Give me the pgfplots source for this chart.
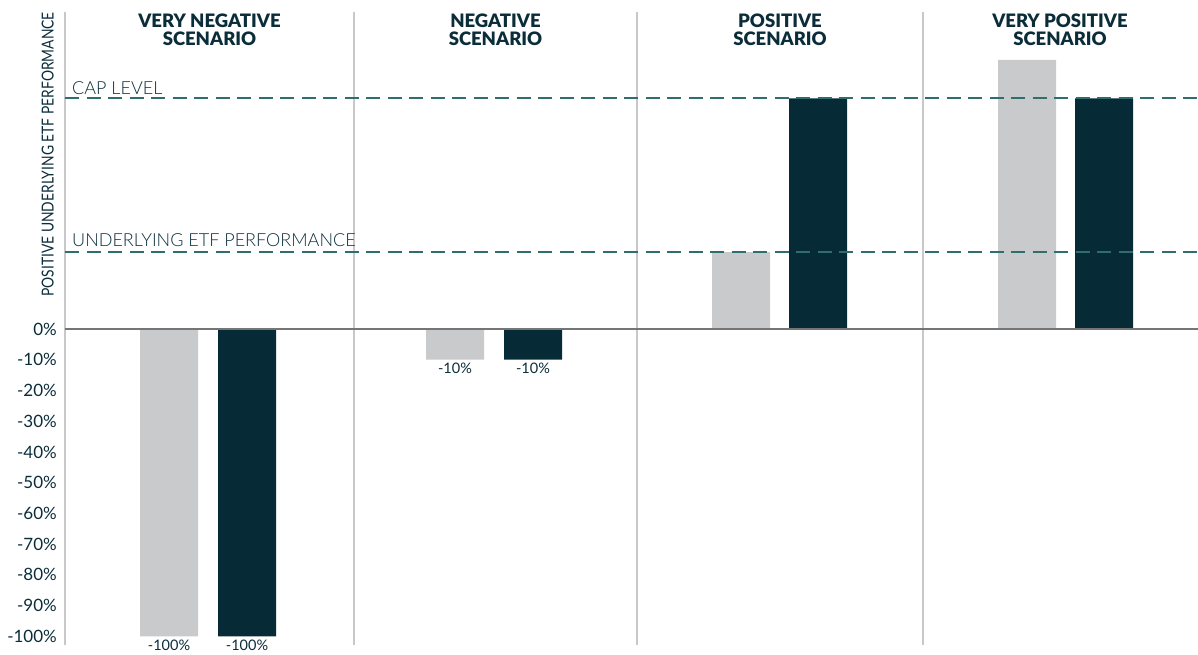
\documentclass[border=0pt]{standalone}
\usepackage{pgfplots}
\pgfplotsset{compat=1.18}
\usepackage{fontspec}
\setmainfont{Lato}
\newfontfamily\lightfont{Lato Light}
\newfontfamily\blackfont{Lato Black}
\definecolor{darkbar}{HTML}{072B36}
\definecolor{lightbar}{HTML}{C9CACC}
\definecolor{txt}{HTML}{0B2D3A}
\definecolor{dashc}{HTML}{2E6E6E}
\definecolor{sepc}{HTML}{C8C8C8}
\definecolor{zeroc}{HTML}{757575}
\tikzset{ttl/.style={anchor=base, inner sep=0pt, text=txt, font=\blackfont\fontsize{18.5}{18.5}\selectfont}}

\begin{document}
\begin{tikzpicture}
\begin{axis}[
  width=1133pt, height=633pt, scale only axis,
  xmin=65, xmax=1198, ymin=-102.8, ymax=103.1,
  axis line style={draw=none},
  xtick=\empty,
  ytick={-100,-90,-80,-70,-60,-50,-40,-30,-20,-10,0},
  yticklabels={-100\%,-90\%,-80\%,-70\%,-60\%,-50\%,-40\%,-30\%,-20\%,-10\%,0\%},
  major tick length=0pt,
  yticklabel style={font=\fontsize{17}{17}\selectfont, text=txt, anchor=east, inner sep=0pt, xshift=-8pt},
  clip=false,
  every node near coord/.style={font=\fontsize{14.5}{14.5}\selectfont, text=txt, anchor=north, inner sep=0pt, yshift=-3.5pt},
]
% separators and left axis
\draw[sepc, line width=1.5pt] (axis cs:65,-102.8) -- (axis cs:65,103.1);
\draw[sepc, line width=1.5pt] (axis cs:354,-102.8) -- (axis cs:354,103.1);
\draw[sepc, line width=1.5pt] (axis cs:637,-102.8) -- (axis cs:637,103.1);
\draw[sepc, line width=1.5pt] (axis cs:923,-102.8) -- (axis cs:923,103.1);

% bars
\addplot[ybar, bar width=58, bar shift=0pt, fill=lightbar, draw=none,
  nodes near coords, point meta=explicit symbolic]
  coordinates {(169,-100) [-100\%] (455,-10) [-10\%] (741,25) [] (1027,87.5) []};
\addplot[ybar, bar width=58, bar shift=0pt, fill=darkbar, draw=none,
  nodes near coords, point meta=explicit symbolic]
  coordinates {(247,-100) [-100\%] (533,-10) [-10\%] (818,75) [] (1104,75) []};

% zero line
\addplot[zeroc, line width=2pt, no markers] coordinates {(65,0) (1198,0)};
% dashed reference lines
\addplot[dashc, line width=2.2pt, dash pattern=on 14pt off 7.5pt, no markers] coordinates {(65,75) (1198,75)};
\addplot[dashc, line width=2.2pt, dash pattern=on 14pt off 7.5pt, no markers] coordinates {(65,25) (1198,25)};

% reference line labels
\node[anchor=base west, inner sep=0pt, text=txt, font=\lightfont\fontsize{18}{18}\selectfont] at (axis cs:72,76.4) {CAP LEVEL};
\node[anchor=base west, inner sep=0pt, text=txt, font=\lightfont\fontsize{18}{18}\selectfont] at (axis cs:72,26.7) {UNDERLYING ETF PERFORMANCE};

% titles
\node[ttl] at (axis cs:209.5,98.2) {VERY NEGATIVE};
\node[ttl] at (axis cs:209.5,92.2) {SCENARIO};
\node[ttl] at (axis cs:495.5,98.2) {NEGATIVE};
\node[ttl] at (axis cs:495.5,92.2) {SCENARIO};
\node[ttl] at (axis cs:780,98.2) {POSITIVE};
\node[ttl] at (axis cs:780,92.2) {SCENARIO};
\node[ttl] at (axis cs:1060,98.2) {VERY POSITIVE};
\node[ttl] at (axis cs:1060,92.2) {SCENARIO};

% y label
\node[rotate=90, anchor=south east, inner sep=0pt, text=txt, font=\fontsize{16.5}{16.5}\selectfont] at (axis cs:54,103.1) {\scalebox{0.84}[1]{POSITIVE UNDERLYING ETF PERFORMANCE}};
\end{axis}
\pgfresetboundingbox
\path[use as bounding box] (-65pt,-9pt) rectangle (1133pt,645pt);
\end{tikzpicture}
\end{document}
